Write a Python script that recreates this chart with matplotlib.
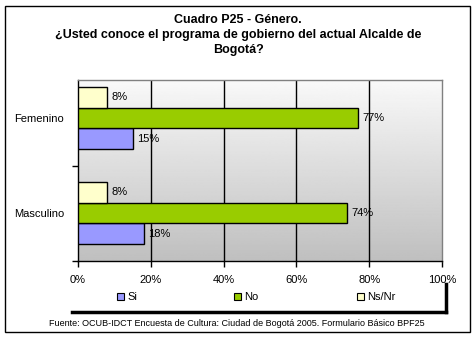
import numpy as np
import matplotlib.pyplot as plt
from matplotlib.patches import Rectangle
from matplotlib.lines import Line2D

plt.rcParams['font.family'] = ['Liberation Sans', 'DejaVu Sans']

categorias = ['Masculino', 'Femenino']
series = ['Si', 'No', 'Ns/Nr']
si = [18, 15]
no = [74, 77]
nsnr = [8, 8]
colores = ['#9999ff', '#99cc00', '#ffffcc']
ticks_x = [0, 20, 40, 60, 80, 100]

W, H = 476, 338
fig = plt.figure(figsize=(W / 100, H / 100), dpi=100)

def fx(px):
    return px / W

def fy(py):
    return 1 - py / H

# marco exterior
fig.patches.append(Rectangle((fx(5), fy(332)), fx(470) - fx(5), fy(6) - fy(332),
                             transform=fig.transFigure, fill=False,
                             edgecolor='black', linewidth=1))

ax = fig.add_axes([fx(78), fy(261), fx(442) - fx(78), fy(80) - fy(261)])

# fondo degradado
grad = np.linspace(0.975, 0.75, 256).reshape(-1, 1)
ax.imshow(grad, cmap='gray', vmin=0, vmax=1, aspect='auto',
          extent=[0, 100, -0.505, 1.40], origin='upper', zorder=0)

y = np.arange(len(categorias))
h = 0.22
valores = [si, no, nsnr]
offsets = [-h, 0, h]
for vals, off, col in zip(valores, offsets, colores):
    barras = ax.barh(y + off, vals, height=h, color=col, edgecolor='black',
                     linewidth=1, zorder=3)
    for b, v in zip(barras, vals):
        ax.annotate(f'{v}%', (b.get_width(), b.get_y() + b.get_height() / 2),
                    xytext=(3, 0), textcoords='offset points', va='center',
                    ha='left', fontsize=8, zorder=4)

ax.set_xlim(0, 100)
ax.set_ylim(-0.505, 1.40)
ax.set_xticks(ticks_x)
ax.set_xticklabels([f'{t}%' for t in ticks_x], fontsize=8)
ax.tick_params(axis='x', direction='out', length=4, width=1, pad=6)
for t in ticks_x[1:-1]:
    ax.axvline(t, color='black', linewidth=1, zorder=1)

ax.set_yticks([-0.5, 0.5])
ax.set_yticklabels([])
ax.set_yticks(y, minor=True)
ax.set_yticklabels(categorias, minor=True, fontsize=8)
ax.tick_params(axis='y', which='major', direction='out', length=4, width=1)
ax.tick_params(axis='y', which='minor', length=0, pad=10)

for s in ['left', 'bottom']:
    ax.spines[s].set_color('black')
    ax.spines[s].set_linewidth(1)
for s in ['top', 'right']:
    ax.spines[s].set_color('#808080')
    ax.spines[s].set_linewidth(1)

# título
fig.text(0.5, fy(14), 'Cuadro P25 - Género.\n¿Usted conoce el programa de gobierno del actual Alcalde de\nBogotá?',
         ha='center', va='top', fontsize=9, fontweight='bold', linespacing=1.35)

# leyenda
leg_x = [120, 237, 360]
for nombre, col, px in zip(series, colores, leg_x):
    fig.patches.append(Rectangle((fx(px - 3), fy(300)), fx(7), 7 / H,
                                 transform=fig.transFigure, facecolor=col,
                                 edgecolor='black', linewidth=0.8))
    fig.text(fx(px + 7), fy(297), nombre, ha='left', va='center', fontsize=8)
fig.lines.append(Line2D([fx(72), fx(446)], [fy(312), fy(312)],
                        transform=fig.transFigure, color='black', linewidth=2.5))
fig.lines.append(Line2D([fx(446), fx(446)], [fy(284), fy(312)],
                        transform=fig.transFigure, color='black', linewidth=2.5))

fig.text(fx(237), fy(324), 'Fuente: OCUB-IDCT Encuesta de Cultura: Ciudad de Bogotá 2005. Formulario Básico BPF25',
         ha='center', va='center', fontsize=6.5)

fig.savefig('out.png', dpi=100)
